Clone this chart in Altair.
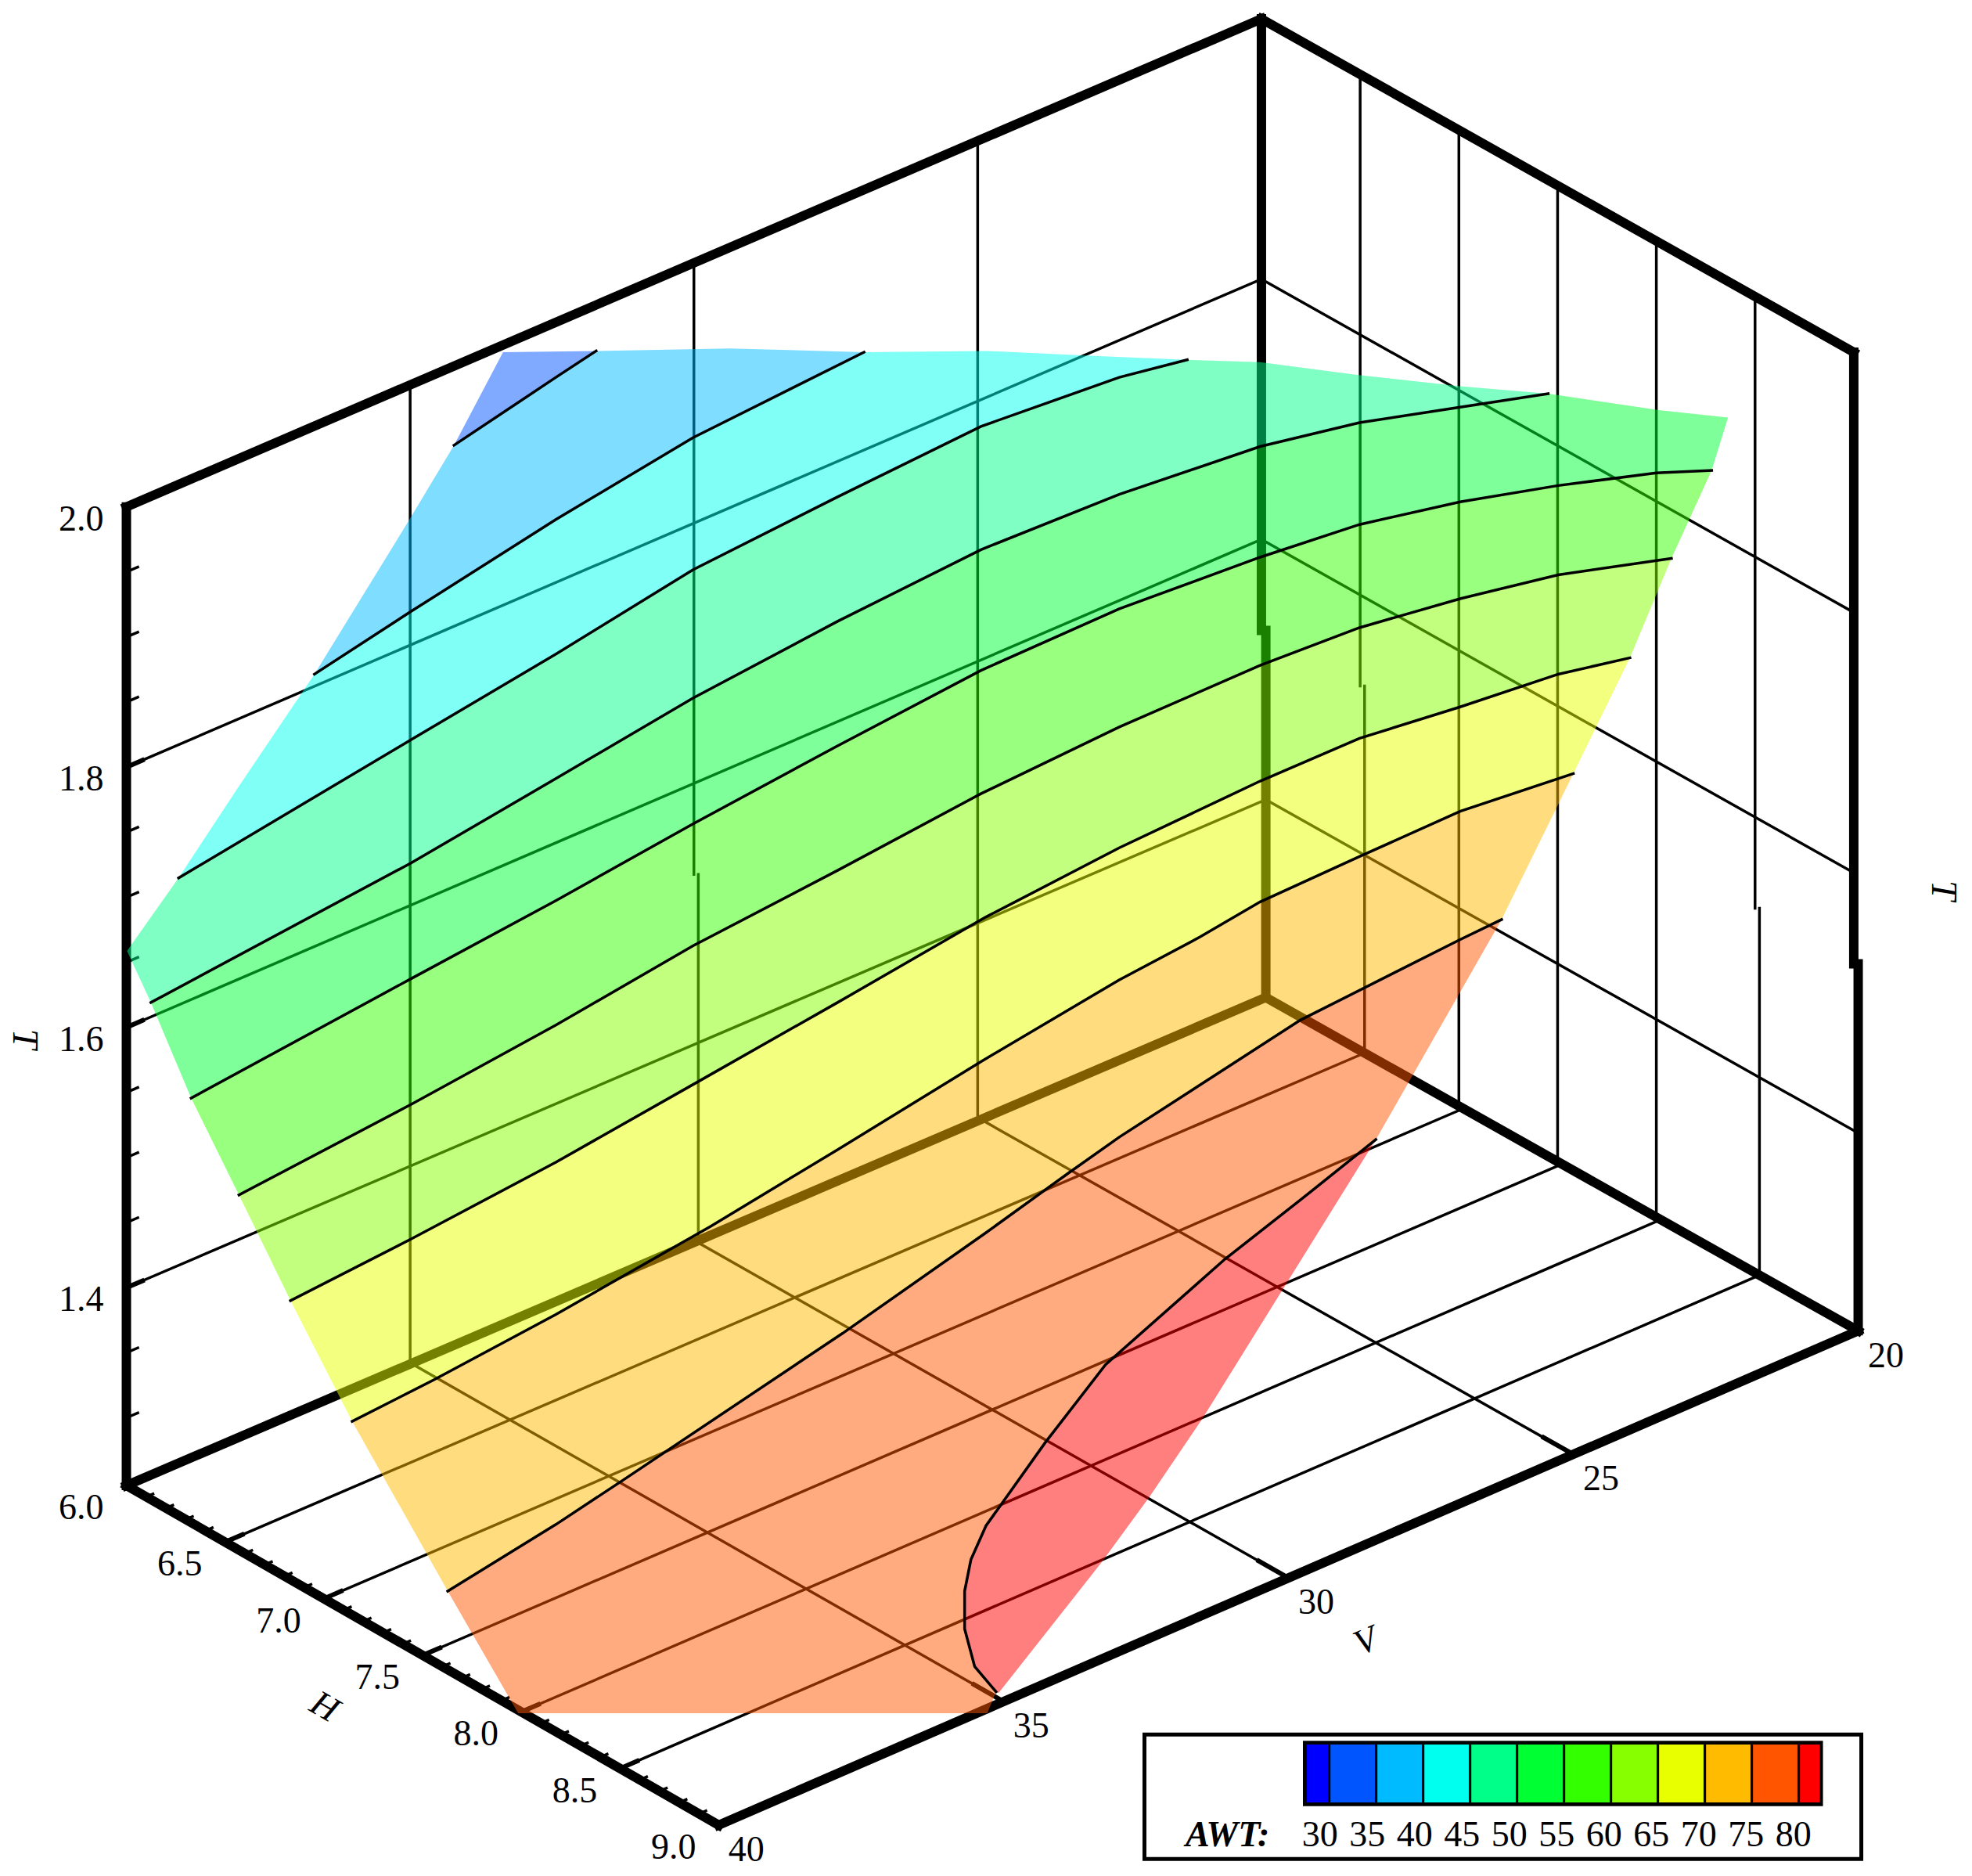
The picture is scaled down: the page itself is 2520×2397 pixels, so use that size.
import altair as alt
import pandas as pd

K = 2520 / 1568
ORIGIN = (100.5, 1181.0)
H_VEC = (471.0, 270.0)
V_VEC = (902.5, -388.0)
TWIST_Y = -5.0
FLOOR_SHIFT = 3.5
T_SPAN = 778.0
T_MIN, T_MAX = 1.248, 2.0
H_MIN, H_MAX = 6.0, 9.0
V_MIN, V_MAX = 20.0, 40.0

H_TICKS = [6.5, 7.0, 7.5, 8.0, 8.5]
H_LABELS = ["6.0", "6.5", "7.0", "7.5", "8.0", "8.5", "9.0"]
V_TICKS = [25.0, 30.0, 35.0]
V_LABELS = ["40", "35", "30", "25", "20"]
T_TICKS = [1.4, 1.6, 1.8]
T_LABELS = ["1.4", "1.6", "1.8", "2.0"]
T_MINOR = [1.3, 1.35, 1.45, 1.5, 1.55, 1.65, 1.7, 1.75, 1.85, 1.9, 1.95]
H_MINOR = [6.1, 6.2, 6.3, 6.4, 6.6, 6.7, 6.8, 6.9, 7.1, 7.2, 7.3, 7.4, 7.6, 7.7, 7.8, 7.9, 8.1, 8.2, 8.3, 8.4, 8.6, 8.7, 8.8, 8.9]
JOG_T = 1.53
JOGGED = {(6.0, 30.0), (6.0, 20.0), (6.5, 20.0), (8.5, 20.0), (9.0, 20.0)}

LEVELS = [30, 35, 40, 45, 50, 55, 60, 65, 70, 75, 80]
COLOURS = ["#0000ff", "#0055ff", "#00bbff", "#00ffee", "#00ff88", "#00ff33",
           "#33ff00", "#88ff00", "#e8ff00", "#ffbb00", "#ff5500", "#ff0000"]

# AWT contours on the surface, read in view coordinates, keyed by level
C35 = [(361, 354), (442, 300), (474, 279)]
C40 = [(250, 536), (327, 486), (442, 413), (551, 348), (687, 280)]
C45 = [(142, 698), (327, 588), (442, 520), (551, 453), (666, 395), (780, 339), (890, 300), (944, 286)]
C50 = [(120, 797), (327, 686), (442, 619), (551, 555), (666, 494), (780, 437), (890, 393), (1002, 355),
       (1081, 336), (1159, 324), (1231, 313)]
C55 = [(152, 873), (327, 778), (442, 716), (551, 655), (666, 593), (780, 533), (890, 484), (1002, 443),
       (1081, 417), (1161, 399), (1239, 386), (1317, 376), (1361, 374)]
C60 = [(190, 950), (327, 878), (442, 815), (551, 752), (666, 692), (780, 631), (890, 578), (1002, 529),
       (1081, 499), (1161, 476), (1239, 457), (1329, 444)]
C65 = [(231, 1034), (327, 985), (442, 924), (555, 860), (666, 797), (784, 729), (890, 674), (1002, 621),
       (1081, 587), (1161, 562), (1239, 536), (1296, 523)]
C70 = [(280, 1130), (345, 1097), (442, 1045), (565, 975), (666, 914), (780, 844), (890, 779), (954, 745),
       (1002, 717), (1081, 681), (1161, 645), (1251, 615)]
C75 = [(356, 1265), (442, 1212), (495, 1177), (670, 1060), (784, 980), (849, 933), (890, 904),
       (1034, 811), (1161, 747), (1194, 731)]
C80 = [(792, 1345), (775, 1325), (767, 1295), (767, 1265), (772, 1240), (784, 1213), (831, 1147),
       (879, 1085), (974, 1001), (1034, 954), (1094, 906)]
CONTOURS = [C35, C40, C45, C50, C55, C60, C65, C70, C75, C80]

SHEET_TOP = [(400, 280)]
SHEET_END = [(956, 1128), (914, 1190), (876, 1242), (794, 1346)]
SHEET_BOTTOM = [(785, 1362), (412, 1362)]
RIGHT_GAPS = [[(580, 277)], [(784, 279), (870, 283)], [(1002, 288), (1079, 298), (1161, 307)],
              [(1319, 326), (1374, 332)], [], [], [], [], []]
LEFT_GAPS = [[(325, 414)], [(190, 625)], [(101, 756)], [], [], [], [], []]


def proj(h, v, t):
    a = (h - H_MIN) / (H_MAX - H_MIN)
    b = (V_MAX - v) / (V_MAX - V_MIN)
    c = (t - T_MIN) / (T_MAX - T_MIN)
    x = ORIGIN[0] + a * H_VEC[0] + b * V_VEC[0]
    if t < JOG_T:
        x += FLOOR_SHIFT * b
    y = ORIGIN[1] + a * H_VEC[1] + b * V_VEC[1] + a * b * TWIST_Y - c * T_SPAN
    return x, y


thin, thick, mid = [], [], []
gid = 0


def add_xy(store, rows):
    global gid
    gid += 1
    store.extend(dict(g=gid, i=i, x=a, y=b) for i, (a, b) in enumerate(rows))


def add(store, pts):
    add_xy(store, [proj(*p) for p in pts])


def vertical(store, h, v):
    x0, y0 = proj(h, v, T_MAX)
    _, y1 = proj(h, v, T_MIN)
    if (h, v) in JOGGED:
        _, yj = proj(h, v, JOG_T)
        add_xy(store, [(x0, y0), (x0, yj)])
        add_xy(store, [(x0 + FLOOR_SHIFT, yj), (x0 + FLOOR_SHIFT, y1)])
    else:
        add_xy(store, [(x0, y0), (x0, y1)])


# walls and floor grid
for t in T_TICKS:
    add(thin, [(H_MIN, V_MAX, t), (H_MIN, V_MIN, t), (H_MAX, V_MIN, t)])
    add(mid, [(H_MIN, V_MAX, t), (H_MIN, 39.72, t)])
for t in T_MINOR:
    add(thin, [(H_MIN, V_MAX, t), (H_MIN, 39.8, t)])
for v in V_TICKS:
    vertical(thin, H_MIN, v)
    add(thin, [(H_MIN, v, T_MIN), (H_MAX, v, T_MIN)])
    add(mid, [(H_MAX, v, T_MIN), (8.85, v, T_MIN)])
for h in H_TICKS:
    vertical(thin, h, V_MIN)
    add(thin, [(h, V_MAX, T_MIN), (h, V_MIN, T_MIN)])
    add(mid, [(h, V_MAX, T_MIN), (h, 39.7, T_MIN)])
for h in H_MINOR:
    add(thin, [(h, V_MAX, T_MIN), (h, 39.88, T_MIN)])

# box edges
for p, q in [((H_MIN, V_MAX, T_MAX), (H_MIN, V_MIN, T_MAX)),
             ((H_MIN, V_MIN, T_MAX), (H_MAX, V_MIN, T_MAX)),
             ((H_MIN, V_MAX, T_MIN), (H_MIN, V_MIN, T_MIN)),
             ((H_MIN, V_MIN, T_MIN), (H_MAX, V_MIN, T_MIN)),
             ((H_MIN, V_MAX, T_MIN), (H_MAX, V_MAX, T_MIN)),
             ((H_MAX, V_MAX, T_MIN), (H_MAX, V_MIN, T_MIN))]:
    add(thick, [p, q])
vertical(thick, H_MIN, V_MAX)
vertical(thick, H_MIN, V_MIN)
vertical(thick, H_MAX, V_MIN)

# surface bands
bands = []


def band(name, colour, pts):
    for i, (x, y) in enumerate(pts):
        bands.append(dict(band=name, colour=colour, i=i, x=x, y=y))


band("30-35", COLOURS[1], SHEET_TOP + C35[::-1])
for k in range(len(CONTOURS) - 2):
    lower, upper = CONTOURS[k], CONTOURS[k + 1]
    pts = lower + RIGHT_GAPS[k] + upper[::-1] + LEFT_GAPS[k][::-1]
    band(f"{LEVELS[k + 1]}-{LEVELS[k + 2]}", COLOURS[k + 2], pts)
band("75-80", COLOURS[10], C75 + C80[::-1] + SHEET_BOTTOM)
band(">80", COLOURS[11], C80 + SHEET_END)

contour_rows = []
for k, c in enumerate(CONTOURS):
    for i, (x, y) in enumerate(c):
        contour_rows.append(dict(g=k, i=i, x=x, y=y))

labels = []
for s, t in zip(T_LABELS, [1.4, 1.6, 1.8, 2.0]):
    x, y = proj(H_MIN, V_MAX, t)
    labels.append(dict(text=s, x=x - 36, y=y + 10))
for s in H_LABELS:
    x, y = proj(float(s), V_MAX, T_MIN)
    labels.append(dict(text=s, x=x - 36, y=y + 18))
for s in V_LABELS:
    x, y = proj(H_MAX, float(s), T_MIN)
    labels.append(dict(text=s, x=x + 22, y=y + 20))

PAGE_W, PAGE_H = 2504, 2379
XS = alt.Scale(domain=[8 / K, (8 + PAGE_W) / K], nice=False, zero=False)
YS = alt.Scale(domain=[(8 + PAGE_H) / K, 8 / K], nice=False, zero=False)
X = alt.X("x:Q", scale=XS, axis=None)
Y = alt.Y("y:Q", scale=YS, axis=None)
X2 = alt.X2("x2:Q")
Y2 = alt.Y2("y2:Q")
FONT = "Liberation Serif"


def lines(rows, width):
    return alt.Chart(pd.DataFrame(rows)).mark_line(color="black", strokeWidth=width, strokeCap="square").encode(
        x=X, y=Y, detail="g:N", order="i:Q")


surface = alt.Chart(pd.DataFrame(bands)).mark_line(strokeWidth=0, opacity=0.5).encode(
    x=X, y=Y, detail="band:N", order="i:Q", fill=alt.Fill("colour:N", scale=None))

text_layer = alt.Chart(pd.DataFrame(labels)).mark_text(font=FONT, fontSize=46, color="black").encode(
    x=X, y=Y, text="text:N")

titles = pd.DataFrame([
    dict(text="T", x=1545, y=708, a=90, s=46),
    dict(text="T", x=19, y=826, a=90, s=46),
    dict(text="H", x=258, y=1357, a=30, s=46),
    dict(text="V", x=1086, y=1305, a=337, s=46),
])
title_layers = [
    alt.Chart(titles[titles.index == i]).mark_text(font=FONT, fontSize=int(r.s), fontStyle="italic", angle=int(r.a), color="black").encode(
        x=X, y=Y, text="text:N")
    for i, r in titles.iterrows()
]

# legend
CELL_W = 37.33
BLOCK_X0 = 1036.0
BLOCK_X1 = 1449.5
frame = alt.Chart(pd.DataFrame([dict(x=910, x2=1480, y=1379, y2=1478)])).mark_rect(
    fill="white", stroke="black", strokeWidth=5).encode(x=X, x2=X2, y=Y, y2=Y2)
block = alt.Chart(pd.DataFrame([dict(x=BLOCK_X0, x2=BLOCK_X1, y=1384, y2=1436)])).mark_rect(fill="black").encode(
    x=X, x2=X2, y=Y, y2=Y2)
cells = []
edge = 1055.9
for i, c in enumerate(COLOURS):
    lo = 1039.0 if i == 0 else edge + (i - 1) * CELL_W + 2
    hi = edge + i * CELL_W if i < 11 else 1447.0
    cells.append(dict(x=lo, x2=hi, y=1387, y2=1433, c=c))
cell_layer = alt.Chart(pd.DataFrame(cells)).mark_rect().encode(
    x=X, x2=X2, y=Y, y2=Y2, fill=alt.Fill("c:N", scale=None))
leg_text = pd.DataFrame([dict(text=str(v), x=1049.5 + i * 37.65, y=1459) for i, v in enumerate(LEVELS)])
leg_labels = alt.Chart(leg_text).mark_text(font=FONT, fontSize=46, color="black").encode(x=X, y=Y, text="text:N")
awt = alt.Chart(pd.DataFrame([dict(text="AWT:", x=976, y=1459)])).mark_text(
    font=FONT, fontSize=46, fontStyle="italic", fontWeight="bold", color="black").encode(x=X, y=Y, text="text:N")

chart = alt.layer(
    lines(thin, 3.5), lines(mid, 6), lines(thick, 12), surface, lines(contour_rows, 3.5),
    text_layer, *title_layers, frame, block, cell_layer, leg_labels, awt,
).properties(width=PAGE_W, height=PAGE_H, padding=0, autosize=alt.AutoSizeParams(type="none")).configure_view(stroke=None)

chart.save("out.html", embed_options={"renderer": "svg", "actions": False})
